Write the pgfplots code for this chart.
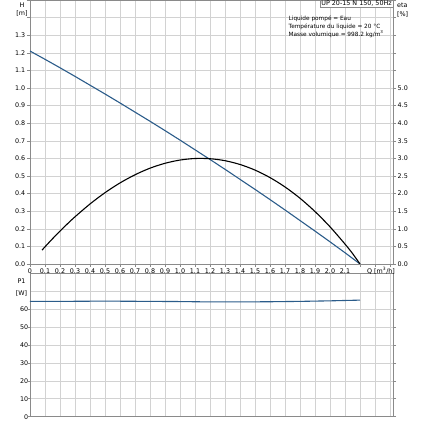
\documentclass[border=0pt]{standalone}
\usepackage{fontspec}
\setmainfont{DejaVu Sans}
\usepackage{pgfplots}
\pgfplotsset{compat=1.18}
\definecolor{curveblue}{HTML}{2B5C8A}
\definecolor{gridgray}{HTML}{D2D2D2}
\definecolor{framegray}{HTML}{8A8A8A}
\begin{document}
\begin{tikzpicture}[x=1bp,y=1bp]
\useasboundingbox (0,0) rectangle (423,423);
\pgfplotsset{
 every axis/.append style={
  scale only axis,
  font=\fontsize{6.4}{7}\selectfont,
  /pgf/number format/assume math mode=true,
  axis line style={framegray, line width=0.7pt},
  grid style={gridgray, line width=0.5pt},
  tick style={framegray, line width=0.5pt},
  tick align=outside, major tick length=3bp,
  xtick={0,0.1,0.2,0.3,0.4,0.5,0.6,0.7,0.8,0.9,1.0,1.1,1.2,1.3,1.4,1.5,1.6,1.7,1.8,1.9,2.0,2.1,2.2,2.3,2.4},
  xmin=0, xmax=2.42,
 }}
% ---------- top: H ----------
\begin{axis}[at={(30bp,159bp)}, anchor=south west, width=363bp, height=264bp,
 ymin=0, ymax=1.5, grid=major,
 xticklabels={0,0.1,0.2,0.3,0.4,0.5,0.6,0.7,0.8,0.9,1.0,1.1,1.2,1.3,1.4,1.5,1.6,1.7,1.8,1.9,2.0,2.1,{},{},{}},
 ytick={0,0.1,0.2,0.3,0.4,0.5,0.6,0.7,0.8,0.9,1.0,1.1,1.2,1.3,1.4,1.5},
 yticklabels={0.0,0.1,0.2,0.3,0.4,0.5,0.6,0.7,0.8,0.9,1.0,1.1,1.2,1.3,{},{}},
 xticklabel style={inner sep=1pt, yshift=-1bp},
 yticklabel style={inner sep=1.5pt},
]
\addplot[curveblue, line width=1.1pt] coordinates {
(0,1.210) (0.1,1.163) (0.2,1.115) (0.3,1.066) (0.4,1.016) (0.5,0.966)
(0.6,0.915) (0.7,0.863) (0.8,0.811) (0.9,0.758) (1.0,0.704) (1.1,0.649)
(1.2,0.594) (1.3,0.538) (1.4,0.481) (1.5,0.424) (1.6,0.366) (1.7,0.307)
(1.8,0.247) (1.9,0.187) (2.0,0.126) (2.1,0.064) (2.2,0.000)};
\end{axis}
% ---------- top: eta (right axis) ----------
\begin{axis}[at={(30bp,159bp)}, anchor=south west, width=363bp, height=264bp,
 ymin=0, ymax=7.5, axis y line*=right, axis x line=none,
 ytick={0,0.5,1,1.5,2,2.5,3,3.5,4,4.5,5},
 yticklabels={0.0,0.5,1.0,1.5,2.0,2.5,3.0,3.5,4.0,4.5,5.0},
 yticklabel style={inner sep=1.5pt},
]
\addplot[black, line width=1.1pt, smooth] coordinates {
(0.08,0.393) (0.1,0.488) (0.15,0.717) (0.2,0.935) (0.25,1.143) (0.3,1.341)
(0.4,1.705) (0.5,2.026) (0.6,2.303) (0.7,2.535) (0.8,2.722) (0.9,2.861)
(1.0,2.953) (1.1,2.997) (1.2,2.991) (1.3,2.935) (1.4,2.827) (1.5,2.668)
(1.6,2.455) (1.7,2.189) (1.8,1.868) (1.9,1.490) (2.0,1.057) (2.1,0.566)
(2.15,0.299) (2.2,0.0)};
\end{axis}
% ---------- bottom: P1 ----------
\begin{axis}[at={(30bp,6.3bp)}, anchor=south west, width=363bp, height=143.7bp,
 ymin=0, ymax=80, grid=major,
 xticklabels={},
 ytick={0,10,20,30,40,50,60,70,80},
 yticklabels={0,10,20,30,40,50,60,{},{}},
 yticklabel style={inner sep=1.5pt},
 major tick length=0bp, ytick style={framegray}, ymajorticks=true,
 extra y ticks={0,10,20,30,40,50,60}, extra y tick labels={},
 extra y tick style={major tick length=3bp, grid=none},
]
\addplot[curveblue, line width=1.1pt] coordinates {
(0,64.2) (0.2,64.2) (0.4,64.3) (0.6,64.3) (0.8,64.2) (1.0,64.1) (1.2,63.9)
(1.4,63.9) (1.6,64.0) (1.8,64.2) (2.0,64.5) (2.2,64.9)};
\end{axis}
% ---------- labels ----------
\begin{scope}[font=\fontsize{6.4}{7}\selectfont]
\node at (22,418) {H};
\node at (22,409.5) {[m]};
\node[anchor=west, inner sep=0pt] at (397,418) {eta};
\node[anchor=west, inner sep=0pt] at (397,409) {[\%]};
\node[anchor=west, inner sep=0pt] at (367,152) {Q [m\textsuperscript{3}/h]};
\node at (21.5,141.5) {P1};
\node at (21.5,130) {[W]};
\node[draw=framegray, fill=white, line width=0.5pt, inner sep=1pt, anchor=north east, font=\fontsize{6.4}{7}\selectfont] at (393,423) {UP 20-15 N 150, 50Hz};
\node[anchor=north west, inner sep=0pt, align=left, font=\fontsize{5.8}{8}\selectfont] at (288.5,407.5)
 {Liquide pompé = Eau\\Température du liquide = 20 °C\\Masse volumique = 998.2 kg/m\textsuperscript{3}};
\end{scope}
\end{tikzpicture}
\end{document}
